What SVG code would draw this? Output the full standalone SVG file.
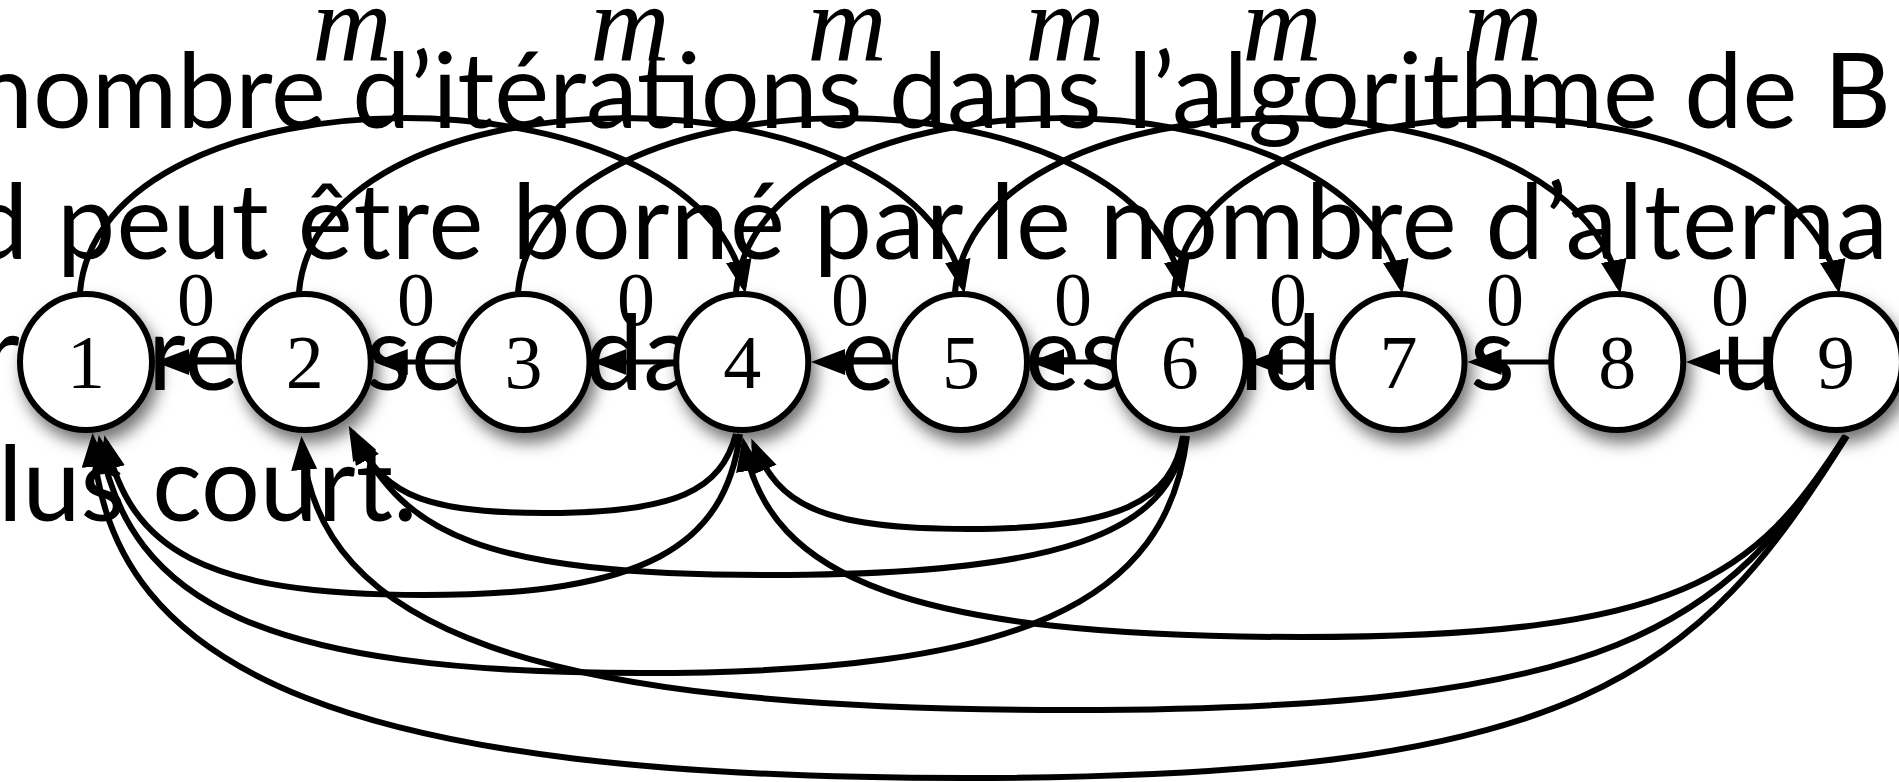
<svg xmlns="http://www.w3.org/2000/svg" width="1899" height="782" viewBox="0 0 1899 782">
<style>
.bg{font-family:Lato,"Open Sans","Liberation Sans",sans-serif;font-size:104px;fill:#000}
.nd{fill:#fff;stroke:#000;stroke-width:6;filter:url(#sh)}
.nl{font-family:"Liberation Serif","Times New Roman",serif;font-size:76px;fill:#000;text-anchor:middle}
.zl{font-family:"Liberation Serif","Times New Roman",serif;font-size:76px;fill:#000;text-anchor:middle}
.ml{font-family:"Liberation Serif","Times New Roman",serif;font-style:italic;font-size:110px;fill:#000;text-anchor:middle}
.e{fill:none;stroke:#000;stroke-width:6;marker-end:url(#ah)}
.h{fill:none;stroke:#000;stroke-width:5;marker-end:url(#ah)}
</style>
<defs>
<marker id="ah" markerUnits="userSpaceOnUse" viewBox="0 0 38 30" markerWidth="38" markerHeight="30" refX="27" refY="13" orient="auto">
<path d="M0,0 L34,13 L0,26 Z" fill="#000"/>
</marker>
<filter id="sh" x="-40%" y="-40%" width="190%" height="190%">
<feDropShadow dx="5" dy="10" stdDeviation="8" flood-color="#000" flood-opacity="0.55"/>
</filter>
</defs>
<rect width="1899" height="782" fill="#fff"/>
<g id="background-text">
<text class="bg" x="-25" y="128" textLength="1916" lengthAdjust="spacing">nombre d’itérations dans l’algorithme de B</text>
<text class="bg" x="-30" y="259" textLength="1918" lengthAdjust="spacing">d peut être borné par le nombre d’alterna</text>
<text class="bg" x="-18" y="390">r</text>
<text class="bg" x="148" y="390">re</text>
<text class="bg" x="366" y="390">sc</text>
<text class="bg" x="585" y="390">da</text>
<text class="bg" x="840" y="390">e</text>
<text class="bg" x="1025" y="390">es</text>
<text class="bg" x="1205" y="390">nd</text>
<text class="bg" x="1470" y="390">s</text>
<text class="bg" x="1722" y="390">u</text>
<text class="bg" x="-2" y="521">lus court.</text>
</g>
<g id="connectors">
<path class="e" d="M80 292 C100 61 699 61 744 287"/>
<path class="e" d="M299 292 C319 61 918 61 963 287"/>
<path class="e" d="M518 292 C538 61 1137 61 1182 287"/>
<path class="e" d="M736 292 C756 61 1356 61 1401 287"/>
<path class="e" d="M955 292 C975 61 1574 61 1619 287"/>
<path class="e" d="M1174 292 C1194 61 1793 61 1838 287"/>
<path class="h" d="M237 362 L162 362"/>
<path class="h" d="M455.5 362 L380.75 362"/>
<path class="h" d="M674 362 L599.5 362"/>
<path class="h" d="M893 362 L818 362"/>
<path class="h" d="M1112 362 L1037 362"/>
<path class="h" d="M1330.5 362 L1255.75 362"/>
<path class="h" d="M1549 362 L1474.5 362"/>
<path class="h" d="M1768 362 L1693 362"/>
<path class="e" d="M736 434 C721 489.3 678.7 513 545 513 C409.9 513 382 488.7 352 432"/>
<path class="e" d="M740 434 C725 546.7 645.2 595 424 595 C201.4 595 131 549.1 106 442"/>
<path class="e" d="M1183 436 C1173 501.1 1118.5 529 968 529 C818.2 529 779 503.8 754 445"/>
<path class="e" d="M1185 436 C1170 533.3 1060.5 575 770 575 C479.5 575 405 533.3 355 436"/>
<path class="e" d="M1187 436 C1167 601.9 1023.5 673 642 673 C262.6 673 130 603.7 100 442"/>
<path class="e" d="M1845 436 C1756 576.7 1681.8 637 1301 637 C911.1 637 769 579.1 744 444"/>
<path class="e" d="M1846 436 C1725 627.8 1613.5 710 1071 710 C532.7 710 317 629.9 302 443"/>
<path class="e" d="M1847 436 C1697 675.4 1582.4 778 965 778 C354.6 778 108 676.6 93 440"/>
<text class="ml" x="352" y="61">m</text>
<text class="ml" x="630" y="61">m</text>
<text class="ml" x="847" y="61">m</text>
<text class="ml" x="1065" y="61">m</text>
<text class="ml" x="1282" y="61">m</text>
<text class="ml" x="1503" y="61">m</text>
<text class="zl" x="196" y="325">0</text>
<text class="zl" x="416" y="325">0</text>
<text class="zl" x="636" y="325">0</text>
<text class="zl" x="850" y="325">0</text>
<text class="zl" x="1073" y="325">0</text>
<text class="zl" x="1288" y="325">0</text>
<text class="zl" x="1505" y="325">0</text>
<text class="zl" x="1730" y="325">0</text>
</g>
<g id="node1"><ellipse class="nd" cx="86" cy="362" rx="66" ry="68"/><text class="nl" x="86" y="388">1</text></g>
<g id="node2"><ellipse class="nd" cx="304.75" cy="362" rx="66" ry="68"/><text class="nl" x="304.75" y="388">2</text></g>
<g id="node3"><ellipse class="nd" cx="523.5" cy="362" rx="66" ry="68"/><text class="nl" x="523.5" y="388">3</text></g>
<g id="node4"><ellipse class="nd" cx="742.25" cy="362" rx="66" ry="68"/><text class="nl" x="742.25" y="388">4</text></g>
<g id="node5"><ellipse class="nd" cx="961" cy="362" rx="66" ry="68"/><text class="nl" x="961" y="388">5</text></g>
<g id="node6"><ellipse class="nd" cx="1179.75" cy="362" rx="66" ry="68"/><text class="nl" x="1179.75" y="388">6</text></g>
<g id="node7"><ellipse class="nd" cx="1398.5" cy="362" rx="66" ry="68"/><text class="nl" x="1398.5" y="388">7</text></g>
<g id="node8"><ellipse class="nd" cx="1617.25" cy="362" rx="66" ry="68"/><text class="nl" x="1617.25" y="388">8</text></g>
<g id="node9"><ellipse class="nd" cx="1836" cy="362" rx="66" ry="68"/><text class="nl" x="1836" y="388">9</text></g>
</svg>
